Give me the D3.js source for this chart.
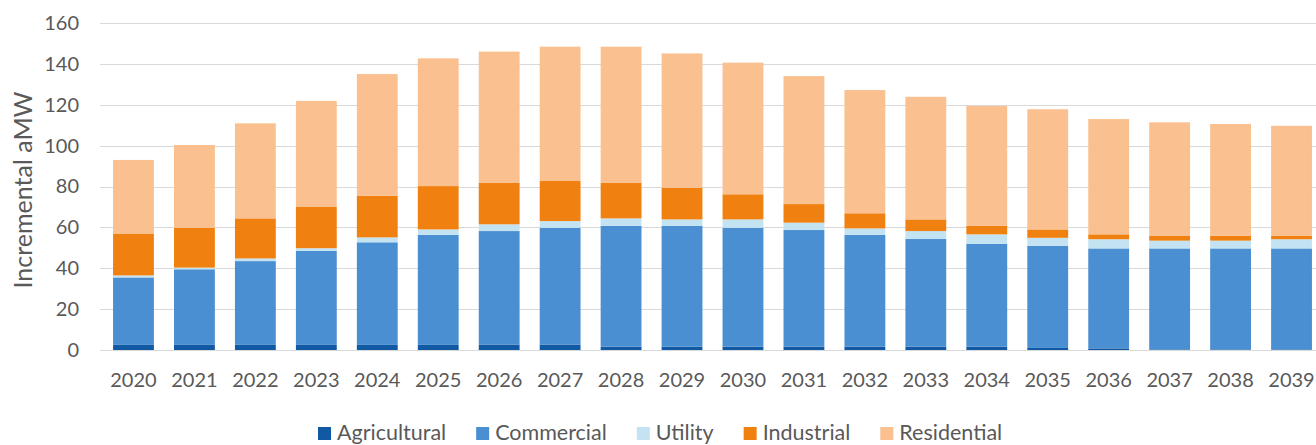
<!DOCTYPE html>
<html lang="en">
<head>
<meta charset="utf-8">
<title>Incremental aMW by sector</title>
<script type="text/javascript" src="https://d3js.org/d3.v7.min.js"></script>
<style>
  body { margin: 0; background: #fff; }
  text { font-family: Lato, "Liberation Sans", sans-serif; fill: #595959; }
</style>
</head>
<body>
<div id="container"></div>
<script type="text/javascript">

var years = ["2020","2021","2022","2023","2024","2025","2026","2027","2028","2029",
             "2030","2031","2032","2033","2034","2035","2036","2037","2038","2039"];
var agricultural = [2.5, 2.5, 2.5, 2.5, 2.5, 2.5, 2.7, 2.7, 1.6, 1.6, 1.6, 1.6, 1.6, 1.6, 1.6, 1.0, 0.8, 0.3, 0.3, 0.3];
var commercial   = [33, 37, 41, 46, 50.2, 53.8, 55.5, 57.1, 59.1, 59.1, 58.2, 57.1, 54.7, 52.7, 50.3, 50, 48.9, 49.4, 49.4, 49.4];
var utility      = [1, 0.8, 1.3, 1.3, 2.4, 2.7, 3.3, 3.3, 3.7, 3.2, 4.1, 3.6, 3.2, 3.9, 4.7, 3.9, 4.5, 3.8, 3.8, 4.5];
var industrial   = [20.5, 19.5, 19.6, 20.4, 20.4, 21.2, 20.4, 19.6, 17.5, 15.5, 12.3, 9.1, 7.4, 5.7, 4.1, 4.1, 2.4, 2.3, 2.4, 1.6];
var residential  = [36, 40.5, 46.5, 51.7, 59.5, 62.5, 64.1, 65.7, 66.5, 65.7, 64.4, 62.6, 60.3, 60, 58.7, 58.8, 56.4, 55.6, 54.7, 53.9];
var series = ["Agricultural","Commercial","Utility","Industrial","Residential"];
var yTicks = [0, 20, 40, 60, 80, 100, 120, 140, 160];

var colors = ["#1259a3", "#4a8fd1", "#c3e3f2", "#f0800f", "#fac08f"];

var w = 1316, h = 445;
var svg = d3.select("div#container").append("svg")
    .attr("width", w).attr("height", h);

// rows for d3.stack
var rows = years.map(function(y, i) {
    return { year: y, Agricultural: agricultural[i], Commercial: commercial[i],
             Utility: utility[i], Industrial: industrial[i], Residential: residential[i] };
});
var stacked = d3.stack().keys(series)(rows);

var x = d3.scaleBand().domain(years).range([103, 1322]).paddingInner(0.33).paddingOuter(0.165);
var y = d3.scaleLinear().domain([0, 160]).range([350, 23]);
var color = d3.scaleOrdinal().domain(series).range(colors);

// gridlines
svg.append("g").selectAll("line")
    .data(yTicks)
    .enter().append("line")
    .attr("x1", 100).attr("x2", 1322)
    .attr("y1", function(d) { return Math.round(y(d)) + 0.5; })
    .attr("y2", function(d) { return Math.round(y(d)) + 0.5; })
    .attr("stroke", "#d9d9d9").attr("stroke-width", 1);

// bars
svg.append("g").selectAll("g")
    .data(stacked)
    .enter().append("g")
    .attr("fill", function(d) { return color(d.key); })
    .selectAll("rect")
    .data(function(d) { return d; })
    .enter().append("rect")
    .attr("x", function(d) { return x(d.data.year); })
    .attr("width", x.bandwidth())
    .attr("y", function(d) { return y(d[1]); })
    .attr("height", function(d) { return y(d[0]) - y(d[1]); });

// y axis
var yAxis = svg.append("g").attr("transform", "translate(79,0)")
    .call(d3.axisLeft(y).tickValues(yTicks).tickSize(0).tickPadding(0));
yAxis.select(".domain").remove();
yAxis.selectAll("text").style("font-size", "20px").attr("fill", "#595959")
    .style("font-family", "Lato, 'Liberation Sans', sans-serif");

// x axis
var xAxis = svg.append("g").attr("transform", "translate(0,350)")
    .call(d3.axisBottom(x).tickSize(0).tickPadding(23));
xAxis.select(".domain").remove();
xAxis.selectAll("text").style("font-size", "20px").attr("fill", "#595959")
    .style("font-family", "Lato, 'Liberation Sans', sans-serif");

// y title
svg.append("text")
    .attr("transform", "translate(32,190) rotate(-90)")
    .attr("text-anchor", "middle")
    .style("font-size", "25px")
    .text("Incremental aMW");

// legend
var legend = svg.append("g");
var lx = 318;
series.forEach(function(s, i) {
    var item = legend.append("g").attr("transform", "translate(" + lx + ",0)");
    item.append("rect").attr("x", 0).attr("y", 427).attr("width", 13).attr("height", 13)
        .attr("fill", colors[i]);
    var t = item.append("text").attr("x", 19).attr("y", 440)
        .style("font-size", "21.5px").text(s);
    lx += 19 + t.node().getComputedTextLength() + 30;
});

</script>
</body>
</html>
